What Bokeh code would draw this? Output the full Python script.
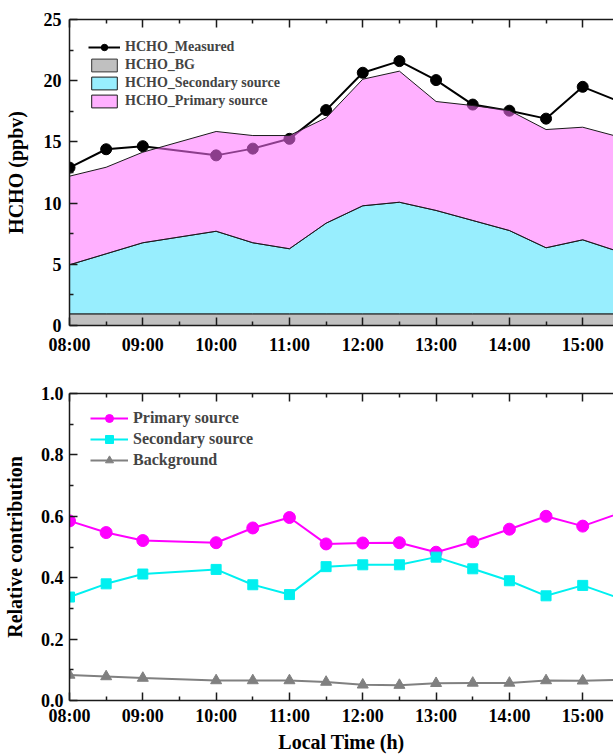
import numpy as np
from bokeh.plotting import figure
from bokeh.layouts import column
from bokeh.models import (FixedTicker, LinearAxis, Range1d, Legend, LegendItem,
                          NumeralTickFormatter)
from bokeh.embed import file_html
from bokeh.resources import INLINE

# ---------------- data ----------------
times = ["08:00", "08:30", "09:00", "10:00", "10:30", "11:00", "11:30", "12:00",
         "12:30", "13:00", "13:30", "14:00", "14:30", "15:00", "15:30"]
hour_ticks = [8, 9, 10, 11, 12, 13, 14, 15]
hour_labels = ["08:00", "09:00", "10:00", "11:00", "12:00", "13:00", "14:00", "15:00"]

hcho_measured = [12.9, 14.4, 14.65, 13.9, 14.45, 15.25, 17.6, 20.65, 21.6, 20.05,
                 18.05, 17.55, 16.9, 19.5, 18.3]
hcho_bg = [0.95, 0.95, 0.95, 0.95, 0.95, 0.95, 0.95, 0.95, 0.95, 0.95, 0.95, 0.95,
           0.95, 0.95, 0.95]
hcho_secondary = [4.01, 4.91, 5.81, 6.75, 5.81, 5.32, 7.41, 8.83, 9.12, 8.45, 7.63,
                  6.81, 5.40, 6.05, 5.07]
hcho_primary = [7.24, 7.07, 7.40, 8.15, 8.76, 9.25, 8.61, 10.34, 10.71, 8.90, 9.39,
                9.81, 9.66, 9.20, 9.38]

rel_primary = [0.585, 0.547, 0.521, 0.514, 0.562, 0.596, 0.510, 0.513, 0.514, 0.483,
               0.517, 0.558, 0.600, 0.568, 0.610]
rel_secondary = [0.337, 0.380, 0.412, 0.427, 0.377, 0.345, 0.436, 0.442, 0.442, 0.467,
                 0.429, 0.390, 0.341, 0.375, 0.333]
rel_background = [0.083, 0.078, 0.073, 0.065, 0.065, 0.065, 0.060, 0.051, 0.050, 0.056,
                  0.057, 0.057, 0.065, 0.064, 0.067]

# ---------------- helpers ----------------
x = [int(t[:2]) + int(t[3:]) / 60.0 for t in times]
bg_top = np.array(hcho_bg)
sec_top = bg_top + np.array(hcho_secondary)
prim_top = sec_top + np.array(hcho_primary)

FONT = "Liberation Serif"
X_END = 15.42
half_hours = [h + 0.5 for h in hour_ticks]
x_overrides = {float(h): lab for h, lab in zip(hour_ticks, hour_labels)}
blank_overrides = {float(h): "" for h in hour_ticks}


def band(lower, upper):
    xs = list(x) + list(x)[::-1]
    ys = list(upper) + list(lower)[::-1]
    return xs, ys


def style_axis(ax, size="18px"):
    ax.axis_line_width = 1.5
    ax.axis_line_color = "#1a1a1a"
    ax.major_tick_in = 8
    ax.major_tick_out = 0
    ax.minor_tick_in = 4
    ax.minor_tick_out = 0
    ax.major_tick_line_width = 1.5
    ax.minor_tick_line_width = 1.5
    ax.major_tick_line_color = "#1a1a1a"
    ax.minor_tick_line_color = "#1a1a1a"
    ax.major_label_text_font = FONT
    ax.major_label_text_font_style = "bold"
    ax.major_label_text_color = "black"
    ax.major_label_text_font_size = size
    ax.axis_label_text_font = FONT
    ax.axis_label_text_font_style = "bold"
    ax.axis_label_text_font_size = "20px"
    ax.axis_label_text_color = "black"


def make_fig(height, ymax, yticks, yminor, top_border, bottom_border):
    p = figure(width=613, height=height, x_range=Range1d(8, X_END),
               y_range=Range1d(0, ymax), output_backend="svg", toolbar_location=None,
               min_border_left=69, min_border_right=0, min_border_top=top_border,
               min_border_bottom=bottom_border)
    p.outline_line_color = None
    p.xgrid.grid_line_color = None
    p.ygrid.grid_line_color = None
    p.background_fill_color = "white"
    p.border_fill_color = "white"
    bx = p.below[0]
    ly = p.left[0]
    bx.ticker = FixedTicker(ticks=[float(h) for h in hour_ticks], minor_ticks=half_hours)
    bx.major_label_overrides = x_overrides
    ly.ticker = FixedTicker(ticks=yticks, minor_ticks=yminor)
    style_axis(bx)
    style_axis(ly)
    top = LinearAxis(ticker=FixedTicker(ticks=[float(h) for h in hour_ticks],
                                        minor_ticks=half_hours))
    style_axis(top, size="1px")
    top.major_label_overrides = blank_overrides
    top.major_label_standoff = 0
    p.add_layout(top, "above")
    return p, bx, ly


# ---------------- top panel ----------------
p1, bx1, ly1 = make_fig(370, 25, [0, 5, 10, 15, 20, 25],
                        [2.5, 7.5, 12.5, 17.5, 22.5], 19, 45)
ly1.axis_label = "HCHO (ppbv)"
ly1.major_label_standoff = 8
ly1.axis_label_standoff = 14
bx1.major_label_standoff = 9

xs, ys = band(np.zeros(len(x)), bg_top)
r_bg = p1.patch(xs, ys, fill_color="#c0c0c0", line_color="#333333", line_width=1)
xs, ys = band(bg_top, sec_top)
r_sec = p1.patch(xs, ys, fill_color="#98eefe", line_color="#1a1a1a", line_width=1)
r_ml = p1.line(x, hcho_measured, line_color="black", line_width=2)
r_ms = p1.scatter(x, hcho_measured, marker="circle", size=11, fill_color="black",
                  line_color="black")
xs, ys = band(sec_top, prim_top)
r_pri = p1.patch(xs, ys, fill_color="#ff6fff", fill_alpha=0.55, line_color="#1a1a1a",
                 line_width=1)

leg1 = Legend(items=[LegendItem(label="HCHO_Measured", renderers=[r_ml, r_ms]),
                     LegendItem(label="HCHO_BG", renderers=[r_bg]),
                     LegendItem(label="HCHO_Secondary source", renderers=[r_sec]),
                     LegendItem(label="HCHO_Primary source", renderers=[r_pri])],
              location=(19, 216), background_fill_alpha=0, border_line_color=None,
              label_text_font=FONT, label_text_font_style="bold",
              label_text_font_size="14px", glyph_width=32, glyph_height=16,
              label_height=16, spacing=2, padding=0, margin=0, label_standoff=5)
p1.add_layout(leg1)

# ---------------- bottom panel ----------------
p2, bx2, ly2 = make_fig(386, 1.0, [0.0, 0.2, 0.4, 0.6, 0.8, 1.0],
                        [0.1, 0.3, 0.5, 0.7, 0.9], 23, 56)
ly2.axis_label = "Relative contribution"
ly2.formatter = NumeralTickFormatter(format="0.0")
ly2.major_label_standoff = 6
ly2.axis_label_standoff = 12
bx2.axis_label = "Local Time (h)"
bx2.major_label_standoff = 5
bx2.axis_label_standoff = 2

l1 = p2.line(x, rel_primary, line_color="#ff00ff", line_width=2)
s1 = p2.scatter(x, rel_primary, marker="circle", size=12, fill_color="#ff00ff",
                line_color="#ff00ff")
l2 = p2.line(x, rel_secondary, line_color="#00f0f0", line_width=2)
s2 = p2.scatter(x, rel_secondary, marker="square", size=10, fill_color="#00f0f0",
                line_color="#00f0f0")
l3 = p2.line(x, rel_background, line_color="#808080", line_width=2)
s3 = p2.scatter(x, rel_background, marker="triangle", size=11, fill_color="#808080",
                line_color="#808080")

leg2 = Legend(items=[LegendItem(label="Primary source", renderers=[l1, s1]),
                     LegendItem(label="Secondary source", renderers=[l2, s2]),
                     LegendItem(label="Background", renderers=[l3, s3])],
              location=(21, 230), background_fill_alpha=0, border_line_color=None,
              label_text_font=FONT, label_text_font_style="bold",
              label_text_font_size="16px", glyph_width=38, glyph_height=20,
              label_height=20, spacing=1, padding=0, margin=0, label_standoff=5)
p2.add_layout(leg2)

layout = column(p1, p2, spacing=0)
open("out.html", "w").write(file_html(layout, INLINE))
